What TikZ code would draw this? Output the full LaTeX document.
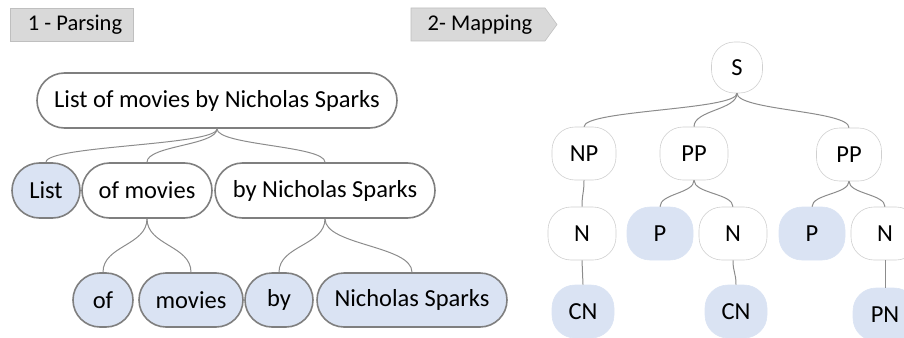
\documentclass[tikz,border=0pt]{standalone}
\usepackage{fontspec}
\setmainfont{Carlito}
\usetikzlibrary{shapes.misc,calc}

\definecolor{edgegray}{HTML}{7F7F7F}
\definecolor{linkgray}{HTML}{8C8C8C}
\definecolor{paleblue}{HTML}{DAE3F3}
\definecolor{tabgray}{HTML}{D9D9D9}
\definecolor{tabedge}{HTML}{BFBFBF}
\definecolor{faintedge}{HTML}{D0D0D0}

\tikzset{
  phrase/.style={rounded rectangle, draw=edgegray, line width=1.6pt, fill=white,
    inner sep=0pt, minimum height=#1, font=\fontsize{24.5}{28}\selectfont},
  phrase/.default=55pt,
  word/.style={phrase=#1, fill=paleblue},
  word/.default=54pt,
  cat/.style={rectangle, rounded corners=23pt, draw=faintedge, line width=0.6pt,
    fill=white, inner sep=0pt, minimum height=53pt,
    font=\fontsize{24.5}{28}\selectfont},
  leaf/.style={cat, draw=paleblue, fill=paleblue},
  link/.style={draw=linkgray, line width=1pt},
  tab/.style={fill=tabgray, draw=tabedge, line width=0.6pt},
  tabtext/.style={inner sep=0pt, font=\fontsize{22.5}{26}\selectfont}
}

% S-shaped connector from the bottom of one node to the top of another
\newcommand{\branch}[2]{%
  \draw[link] (#1.south) .. controls ($(#1.south)!0.5!(#1.south |- #2.north)$)
    and ($(#2.north)!0.5!(#2.north |- #1.south)$) .. (#2.north);}

\begin{document}
\begin{tikzpicture}[x=1pt, y=-1pt]
  \useasboundingbox (0,0) rectangle (904,337);

  % step headers
  \draw[tab] (10,8) rectangle (133,41);
  \node[tabtext] (h1) at (75,25) {1 - Parsing};
  \draw[tab] (411,8) -- (545,8) -- (557,24.5) -- (545,41) -- (411,41) -- cycle;
  \node[tabtext] (h2) at (480,25) {2- Mapping};

  % parse of the query
  \node[phrase, minimum width=360pt] (root) at (217,100.5) {List of movies by Nicholas Sparks};
  \node[word=55pt, minimum width=68pt] (list) at (46,190.5) {List};
  \node[phrase, minimum width=130pt] (ofm) at (147,190.5) {of movies};
  \node[phrase, minimum width=220pt] (byns) at (325,190.5) {by Nicholas Sparks};
  \node[word, minimum width=60pt] (of) at (103,300) {of};
  \node[word, minimum width=104pt] (movies) at (191,300) {movies};
  \node[word, minimum width=68pt] (by) at (279,300) {by};
  \node[word, minimum width=190pt] (ns) at (412,300) {Nicholas Sparks};

  \branch{root}{list}
  \branch{root}{ofm}
  \branch{root}{byns}
  \branch{ofm}{of}
  \branch{ofm}{movies}
  \branch{byns}{by}
  \branch{byns}{ns}

  % grammar tree
  \node[cat, minimum width=51pt, minimum height=51pt] (s) at (737,67.5) {S};
  \node[cat, minimum width=64pt] (np) at (584,153.5) {NP};
  \node[cat, minimum width=68pt] (pp1) at (694,153.5) {PP};
  \node[cat, minimum width=65pt] (pp2) at (849,154.5) {PP};
  \node[cat, minimum width=68pt] (n1) at (582,233.5) {N};
  \node[leaf, minimum width=66pt] (p1) at (660,233.5) {P};
  \node[cat, minimum width=68pt] (n2) at (733,233.5) {N};
  \node[leaf, minimum width=66pt] (p2) at (812,233.5) {P};
  \node[cat, minimum width=68pt] (n3) at (885,233.5) {N};
  \node[leaf, minimum width=62pt] (cn1) at (583,311.5) {CN};
  \node[leaf, minimum width=62pt] (cn2) at (736,311.5) {CN};
  \node[leaf, minimum width=64pt] (pn) at (885,314.5) {PN};

  \branch{s}{np}
  \branch{s}{pp1}
  \branch{s}{pp2}
  \branch{np}{n1}
  \branch{pp1}{p1}
  \branch{pp1}{n2}
  \branch{pp2}{p2}
  \branch{pp2}{n3}
  \branch{n1}{cn1}
  \branch{n2}{cn2}
  \branch{n3}{pn}
\end{tikzpicture}
\end{document}
